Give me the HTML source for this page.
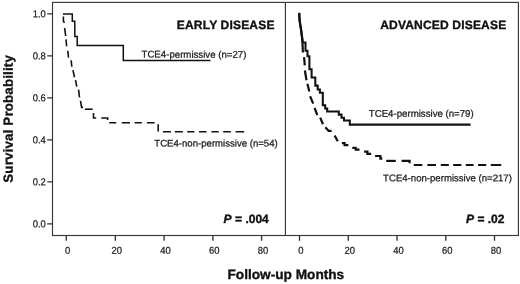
<!DOCTYPE html>
<html>
<head>
<meta charset="utf-8">
<title>Survival Probability</title>
<style>
html,body{margin:0;padding:0;background:#fff;}
body{width:520px;height:284px;overflow:hidden;position:relative;font-family:"Liberation Sans",sans-serif;}
svg{position:absolute;left:0;top:0;display:block;will-change:transform;}
text{font-family:"Liberation Sans",sans-serif;fill:#1c1c1c;text-rendering:geometricPrecision;stroke:#1c1c1c;stroke-width:0.25px;}
.tk{font-size:10px;}
.lb{font-size:9.6px;}
.ti{font-size:12.05px;letter-spacing:0.16px;font-weight:bold;fill:#111;stroke:#111;stroke-width:0.35px;}
.ax{font-size:13.65px;font-weight:bold;fill:#111;stroke:#111;stroke-width:0.35px;}
.pv{font-size:12.05px;font-weight:bold;fill:#111;stroke:#111;stroke-width:0.35px;}
</style>
</head>
<body>
<svg width="520" height="284" viewBox="0 0 520 284">
<rect x="0" y="0" width="520" height="284" fill="#ffffff"/>
<!-- frame -->
<g fill="none" stroke="#383838" stroke-width="1.15">
<rect x="52.5" y="2.4" width="465.9" height="233.1"/>
<line x1="285.4" y1="2.4" x2="285.4" y2="235.5"/>
</g>
<!-- ticks -->
<g stroke="#333" stroke-width="1.35" fill="none">
<path d="M47.2,13.9H52.5M47.2,55.9H52.5M47.2,97.9H52.5M47.2,139.9H52.5M47.2,181.9H52.5M47.2,223.9H52.5"/>
<path d="M66.3,235.5V240.8M115.3,235.5V240.8M164.1,235.5V240.8M212.9,235.5V240.8M261.6,235.5V240.8"/>
<path d="M299.5,235.5V240.8M348.3,235.5V240.8M397.0,235.5V240.8M445.8,235.5V240.8M494.5,235.5V240.8"/>
</g>
<!-- tick labels -->
<text class="tk" text-anchor="end" transform="translate(45.80 17.25) scale(0.94 1) rotate(0.05)">1.0</text>
<text class="tk" text-anchor="end" transform="translate(45.80 59.25) scale(0.94 1) rotate(0.05)">0.8</text>
<text class="tk" text-anchor="end" transform="translate(45.80 101.25) scale(0.94 1) rotate(0.05)">0.6</text>
<text class="tk" text-anchor="end" transform="translate(45.80 143.25) scale(0.94 1) rotate(0.05)">0.4</text>
<text class="tk" text-anchor="end" transform="translate(45.80 185.25) scale(0.94 1) rotate(0.05)">0.2</text>
<text class="tk" text-anchor="end" transform="translate(45.80 227.25) scale(0.94 1) rotate(0.05)">0.0</text>
<text class="tk" text-anchor="middle" transform="translate(67.70 253.75) scale(0.94 1) rotate(0.05)">0</text>
<text class="tk" text-anchor="middle" transform="translate(116.70 253.75) scale(0.94 1) rotate(0.05)">20</text>
<text class="tk" text-anchor="middle" transform="translate(165.50 253.75) scale(0.94 1) rotate(0.05)">40</text>
<text class="tk" text-anchor="middle" transform="translate(214.30 253.75) scale(0.94 1) rotate(0.05)">60</text>
<text class="tk" text-anchor="middle" transform="translate(263.00 253.75) scale(0.94 1) rotate(0.05)">80</text>
<text class="tk" text-anchor="middle" transform="translate(300.90 253.75) scale(0.94 1) rotate(0.05)">0</text>
<text class="tk" text-anchor="middle" transform="translate(349.70 253.75) scale(0.94 1) rotate(0.05)">20</text>
<text class="tk" text-anchor="middle" transform="translate(398.40 253.75) scale(0.94 1) rotate(0.05)">40</text>
<text class="tk" text-anchor="middle" transform="translate(447.20 253.75) scale(0.94 1) rotate(0.05)">60</text>
<text class="tk" text-anchor="middle" transform="translate(495.90 253.75) scale(0.94 1) rotate(0.05)">80</text>
<!-- axis titles -->
<text class="ax" transform="translate(227.50 278.90) rotate(0.05)">Follow-up Months</text>
<text class="ax" style="font-size:13.25px;letter-spacing:0.2px" transform="translate(12.75 182.7) rotate(-89.95)">Survival Probability</text>
<!-- panel titles -->
<text class="ti" transform="translate(176.80 28.90) rotate(0.05)">EARLY DISEASE</text>
<text class="ti" transform="translate(380.20 28.90) rotate(0.05)">ADVANCED DISEASE</text>
<!-- p values -->
<text class="pv" transform="translate(223.60 222.90) rotate(0.05)"><tspan font-style="italic">P</tspan> = .004</text>
<text class="pv" transform="translate(466.00 223.00) rotate(0.05)"><tspan font-style="italic">P</tspan> = .02</text>
<!-- curve labels -->
<text class="lb" transform="translate(141.50 57.60) rotate(0.05)" style="font-size:9.66px">TCE4-permissive (n=27)</text>
<text class="lb" transform="translate(154.30 146.40) rotate(0.05)">TCE4-non-permissive (n=54)</text>
<text class="lb" transform="translate(368.80 116.70) rotate(0.05)" style="font-size:9.66px">TCE4-permissive (n=79)</text>
<text class="lb" transform="translate(383.10 181.20) rotate(0.05)">TCE4-non-permissive (n=217)</text>

<!-- LEFT solid -->
<path fill="none" stroke="#111" stroke-width="1.5" stroke-linejoin="miter" d="M62.9,13.9H72.3V21.3H74.8V36.6H77.2V45.5H123.3V60.4H210.5"/>
<!-- LEFT dashed -->
<g fill="none" stroke="#111" stroke-width="1.6">
<path d="M63.4,16.6V21L64.4,22.8"/>
<path d="M64.6,28L65.7,36"/>
<path d="M66,39.4L66.6,46.2"/>
<path d="M67.8,50.9L68.5,57.6"/>
<path d="M71.2,60.3L71.8,66.7"/>
<path d="M72.9,70.1L74.5,77.2"/>
<path d="M75.5,80.2L76.8,86.6"/>
<path d="M78.5,89.7L79.5,97.4"/>
<path d="M80.5,100.9L81.6,107.4H83"/>
<path d="M84.9,109.2H92.6"/>
<path d="M93.5,113V118H96.2"/>
<path d="M101.3,118H107.6V120"/>
<path d="M109.2,122.7H116.2M121.8,122.7H130M134.6,122.7H141.8M146.9,122.7H154.6"/>
<path d="M158.2,124.2V131.5"/>
<path d="M162.9,131.8H171M174.8,131.8H182.8M187.2,131.8H194.4M199,131.8H206.5M211.4,131.8H218.7M223.2,131.8H230.8M235.6,131.8H244.2"/>
</g>

<!-- RIGHT solid -->
<path fill="none" stroke="#111" stroke-width="2.05" d="M299.2,12.9L299.5,20L301.1,30L302.6,40.5L303,42.4H305.5V50.8H307.5V56.3H309.4V69.2H311.6V77.5H315.3V85.6H317.7V89.4H319.9V92.8H322.8V105.2H325.2V108.4H327.2V111.4H338.8V114.6H341.5V117.8H344V120.5H349.8V124.6H470.6"/>
<!-- RIGHT dashed -->
<g fill="none" stroke="#111" stroke-width="2.2">
<path d="M299.2,12.9L299.5,20L301.1,30L302.4,41L302.9,52.5"/>
<path d="M304.1,57.2L304.8,65.4"/>
<path d="M304.9,70.5L306.5,80.2"/>
<path d="M307.4,83.7L309.3,91.4"/>
<path d="M310.1,96.2L313.2,103.6"/>
<path d="M314.6,107.9L317.3,115.2"/>
<path d="M320.2,117.6L323,124.2"/>
<path d="M325.4,127.3L328.6,130.9H331.6"/>
<path d="M334.6,135.4L337.8,141.3"/>
<path d="M341.9,143.2H344.6V145.2H348.4"/>
<path d="M352.3,147.8H355.7V149.7H359.5"/>
<path d="M364.1,151.7H367.4V153.9H371.2"/>
<path d="M375.1,156H380.4V158.6H382.3"/>
<path d="M386.2,160.9H395.8"/>
<path d="M401.6,160.9H409.6V163.2"/>
<path d="M413.8,165H422.3M427.4,165H436M440.8,165H448.8M453.2,165H461.4M465.8,165H473.6M478,165H486.2M490.8,165H501.2"/>
</g>
</svg>
</body>
</html>
